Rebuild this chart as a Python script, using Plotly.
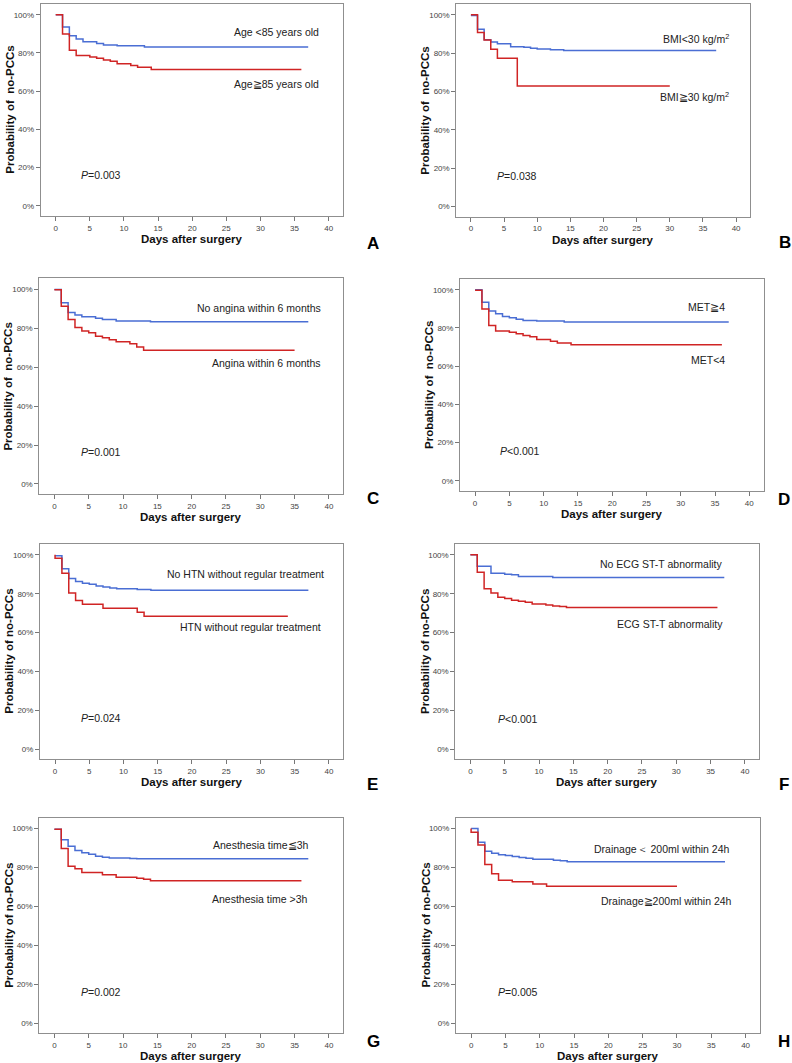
import plotly.graph_objects as go

W, H = 792, 1063

# ---------------- data ----------------
A_blue_t = [0, 1, 2, 3, 4, 6, 7, 9, 13, 37]
A_blue_s = [100, 93.6, 89.0, 87.3, 85.9, 85.0, 84.2, 83.8, 83.1, 83.1]
A_red_t = [0, 1, 2, 3, 5, 6, 7, 8, 9, 11, 12, 14, 36]
A_red_s = [100, 89.9, 81.4, 78.6, 77.9, 77.2, 76.3, 75.7, 74.3, 73.4, 72.5, 71.3, 71.3]

B_blue_t = [0, 1, 2, 3, 4, 6, 8, 9, 10, 12, 14, 37]
B_blue_s = [99.6, 92.5, 87.0, 85.8, 84.9, 83.3, 83.0, 82.5, 82.1, 81.8, 81.3, 81.3]
B_red_t = [0, 1, 2, 3, 4, 7, 30]
B_red_s = [100, 90.8, 86.8, 82.0, 77.3, 62.8, 62.8]

C_blue_t = [0, 1, 2, 3, 4, 6, 7, 9, 14, 37]
C_blue_s = [99.8, 93.1, 88.0, 86.8, 85.9, 85.1, 84.4, 83.7, 83.3, 83.3]
C_red_t = [0, 1, 2, 3, 4, 5, 6, 7, 8, 9, 11, 12, 13, 35]
C_red_s = [99.7, 91.2, 84.5, 80.4, 78.5, 77.7, 75.9, 75.1, 74.1, 73.0, 72.0, 70.3, 68.7, 68.7]

D_blue_t = [0, 1, 2, 3, 4, 5, 6, 7, 9, 13, 37]
D_blue_s = [100, 93.5, 88.8, 87.4, 86.0, 85.3, 84.6, 83.9, 83.6, 83.1, 83.1]
D_red_t = [0, 1, 2, 3, 5, 6, 7, 8, 9, 11, 12, 14, 36]
D_red_s = [99.7, 89.9, 81.3, 78.4, 77.7, 77.0, 76.1, 75.4, 74.0, 73.1, 72.1, 71.2, 71.2]

E_blue_t = [0, 1, 2, 3, 4, 5, 6, 7, 8, 9, 12, 14, 37]
E_blue_s = [99.5, 92.8, 87.8, 86.3, 85.4, 84.9, 84.0, 83.5, 83.0, 82.5, 82.1, 81.8, 81.8]
E_red_t = [0, 0, 1, 2, 3, 4, 7, 12, 13, 34]
E_red_s = [100, 98.3, 90.5, 80.4, 76.5, 74.6, 72.5, 70.4, 68.4, 68.4]

F_blue_t = [0, 1, 3, 5, 6, 7, 12, 37]
F_blue_s = [100, 94.2, 90.5, 90.0, 89.7, 88.8, 88.3, 88.3]
F_red_t = [0, 1, 2, 3, 4, 5, 6, 7, 8, 9, 11, 12, 13, 14, 36]
F_red_s = [100, 91.1, 82.5, 80.4, 78.2, 77.5, 76.6, 76.1, 75.6, 74.7, 74.2, 73.7, 73.4, 72.9, 72.9]

G_blue_t = [0, 1, 2, 3, 4, 5, 6, 7, 8, 11, 12, 37]
G_blue_s = [99.7, 94.3, 90.9, 88.7, 87.6, 86.8, 85.8, 85.2, 84.9, 84.6, 84.5, 84.5]
G_red_t = [0, 1, 2, 3, 4, 7, 9, 12, 13, 14, 36]
G_red_s = [99.7, 89.7, 80.6, 79.4, 77.4, 76.3, 75.0, 74.4, 73.9, 73.2, 73.2]

H_blue_t = [0, 1, 2, 3, 4, 5, 6, 7, 8, 9, 12, 13, 14, 37]
H_blue_s = [100, 93.0, 88.3, 87.3, 86.6, 86.1, 85.6, 85.1, 84.7, 84.2, 83.7, 83.4, 83.0, 83.0]
H_red_t = [0, 0, 1, 2, 3, 4, 6, 9, 11, 30]
H_red_s = [100, 98.1, 91.6, 81.5, 76.8, 73.4, 72.6, 71.5, 70.3, 70.3]

panel_letters = ["A", "B", "C", "D", "E", "F", "G", "H"]
blue_labels = ["Age <85 years old", "BMI<30 kg/m<sup>2</sup>", "No angina within 6 months", "MET≧4",
               "No HTN without regular treatment", "No ECG ST-T abnormality",
               "Anesthesia time≦3h", "Drainage＜ 200ml within 24h"]
red_labels = ["Age≧85 years old", "BMI≧30 kg/m<sup>2</sup>", "Angina within 6 months", "MET<4",
              "HTN without regular treatment", "ECG ST-T abnormality",
              "Anesthesia time >3h", "Drainage≧200ml within 24h"]
p_values = ["=0.003", "=0.038", "=0.001", "<0.001", "=0.024", "<0.001", "=0.002", "=0.005"]
y_titles = ["Probability of\u00a0 no-PCCs"] * 4 + ["Probability of no-PCCs"] * 4
x_title = "Days after surgery"
y_tick_vals = [0, 20, 40, 60, 80, 100]
y_tick_text = ["0%", "20%", "40%", "60%", "80%", "100%"]
x_tick_vals = [0, 5, 10, 15, 20, 25, 30, 35, 40]

blue_series = [(A_blue_t, A_blue_s), (B_blue_t, B_blue_s), (C_blue_t, C_blue_s), (D_blue_t, D_blue_s),
               (E_blue_t, E_blue_s), (F_blue_t, F_blue_s), (G_blue_t, G_blue_s), (H_blue_t, H_blue_s)]
red_series = [(A_red_t, A_red_s), (B_red_t, B_red_s), (C_red_t, C_red_s), (D_red_t, D_red_s),
              (E_red_t, E_red_s), (F_red_t, F_red_s), (G_red_t, G_red_s), (H_red_t, H_red_s)]

# label positions (data coords): blue label, red label, p-value
blue_lab_pos = [(38.9, 91.0), (39.3, 87.7), (39.2, 90.5), (36.7, 90.9), (39.5, 90.2), (37.1, 95.2), (37.4, 91.4), (37.9, 89.7)]
red_lab_pos = [(38.9, 63.5), (39.3, 57.3), (39.2, 62.2), (36.7, 63.0), (39.1, 62.7), (37.1, 64.3), (37.2, 63.6), (38.3, 62.6)]
p_pos = [(3.4, 16.0), (3.6, 16.1), (3.6, 16.3), (3.4, 15.5), (3.55, 15.8), (3.7, 15.3), (3.6, 15.9), (3.6, 15.7)]

# ---------------- layout geometry (pixels) ----------------
boxes = [  # x0, x1, y0(top), y1(bottom)
    (40.7, 343.0, 4.0, 216.0),
    (456.3, 750.0, 4.0, 216.7),
    (39.3, 343.3, 278.3, 494.3),
    (460.0, 763.7, 279.0, 491.0),
    (40.0, 343.3, 544.0, 759.3),
    (455.3, 759.3, 544.0, 759.3),
    (39.3, 343.3, 817.7, 1033.3),
    (456.0, 760.0, 817.7, 1033.3),
]
letter_pos = [(373, 243), (784.5, 242), (373, 498.5), (784, 499), (372.5, 784), (784, 784), (373, 1041.5), (784, 1041)]

BLUE = "rgb(74,110,212)"
RED = "rgb(208,36,36)"
FONT = "Liberation Sans, Arial, sans-serif"

fig = go.Figure()
layout = dict(width=W, height=H, margin=dict(l=0, r=0, t=0, b=0),
              paper_bgcolor="white", plot_bgcolor="white", showlegend=False)
annotations = []

def px_x(x):
    return x / W

def px_y(y):
    return 1 - y / H

for i in range(8):
    n = "" if i == 0 else str(i + 1)
    xa, ya = "x" + n, "y" + n
    x0, x1, y0, y1 = boxes[i]
    axis_common = dict(showgrid=False, zeroline=False, showline=True, mirror=True,
                       linecolor="#8f8f8f", linewidth=1, ticks="outside", ticklen=4,
                       tickcolor="#777", tickwidth=1,
                       tickfont=dict(family=FONT, size=8, color="#444"))
    layout["xaxis" + n] = dict(domain=[px_x(x0), px_x(x1)], range=[-2.2, 42.1], anchor=ya,
                               tickvals=x_tick_vals, **axis_common)
    layout["yaxis" + n] = dict(domain=[px_y(y1), px_y(y0)], range=[-5.3, 105.6], anchor=xa,
                               tickvals=y_tick_vals, ticktext=y_tick_text, **axis_common)
    bt, bs = blue_series[i]
    rt, rs = red_series[i]
    fig.add_trace(go.Scatter(x=bt, y=bs, mode="lines", line=dict(color=BLUE, width=1.5, shape="hv"),
                             xaxis=xa, yaxis=ya, hoverinfo="skip"))
    fig.add_trace(go.Scatter(x=rt, y=rs, mode="lines", line=dict(color=RED, width=1.5, shape="hv"),
                             xaxis=xa, yaxis=ya, hoverinfo="skip"))
    lab_font = dict(family=FONT, size=10.5, color="#222")
    annotations.append(dict(x=blue_lab_pos[i][0], y=blue_lab_pos[i][1], xref=xa, yref=ya, text=blue_labels[i],
                            showarrow=False, xanchor="right", yanchor="middle", font=lab_font))
    annotations.append(dict(x=red_lab_pos[i][0], y=red_lab_pos[i][1], xref=xa, yref=ya, text=red_labels[i],
                            showarrow=False, xanchor="right", yanchor="middle", font=lab_font))
    annotations.append(dict(x=p_pos[i][0], y=p_pos[i][1], xref=xa, yref=ya, text="<i>P</i>" + p_values[i],
                            showarrow=False, xanchor="left", yanchor="middle", font=lab_font))
    # axis titles
    annotations.append(dict(x=px_x((x0 + x1) / 2), y=px_y(y1 + 23), xref="paper", yref="paper",
                            text="<b>" + x_title + "</b>", showarrow=False, xanchor="center", yanchor="middle",
                            font=dict(family=FONT, size=11.5, color="#111")))
    annotations.append(dict(x=px_x(x0 - 31), y=px_y((y0 + y1) / 2), xref="paper", yref="paper",
                            text="<b>" + y_titles[i] + "</b>", showarrow=False, textangle=-90,
                            xanchor="center", yanchor="middle",
                            font=dict(family=FONT, size=11.5, color="#111")))
    # panel letter
    lx, ly = letter_pos[i]
    annotations.append(dict(x=px_x(lx), y=px_y(ly), xref="paper", yref="paper",
                            text="<b>" + panel_letters[i] + "</b>", showarrow=False,
                            xanchor="center", yanchor="middle",
                            font=dict(family=FONT, size=17, color="#000")))

layout["annotations"] = annotations
fig.update_layout(**layout)
fig.write_html("out.html", config={"displayModeBar": False},
               post_script="document.body.style.margin='0';document.body.style.overflow='hidden';")
